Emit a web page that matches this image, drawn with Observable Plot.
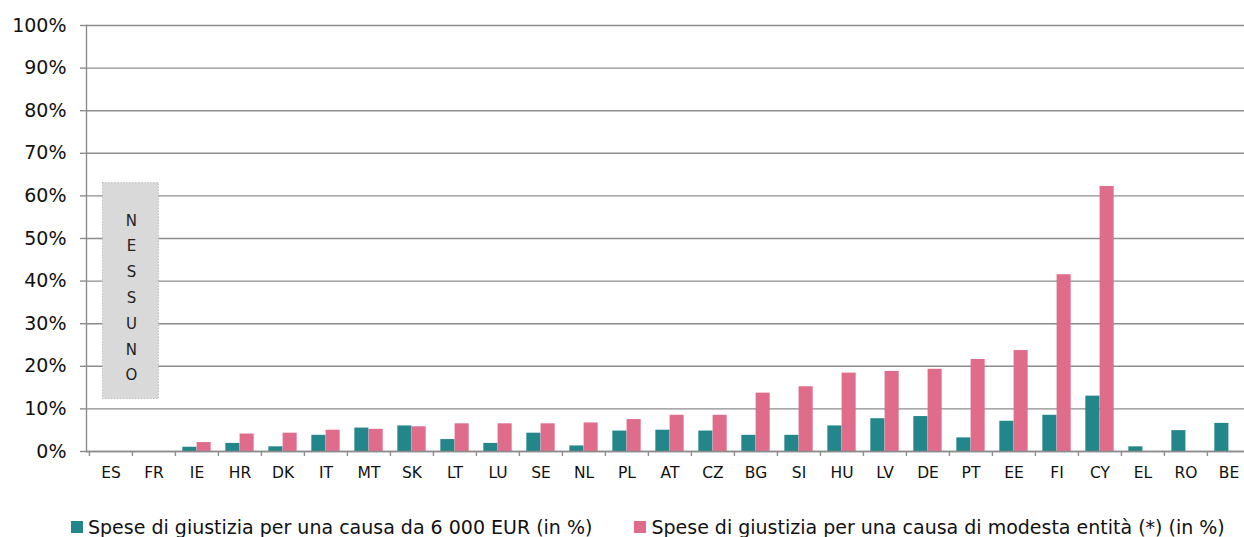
<!DOCTYPE html>
<html>
<head>
<meta charset="utf-8">
<script src="https://cdn.jsdelivr.net/npm/d3@7"></script>
<script src="https://cdn.jsdelivr.net/npm/@observablehq/plot@0.6"></script>
<style>
  html, body { margin: 0; padding: 0; background: #fff; }
  #legend {
    display: flex;
    gap: 42px;
    padding-left: 71px;
    margin-top: 25px;
    font-family: "DejaVu Sans", sans-serif;
    font-size: 19px;
    color: #111;
    line-height: 24px;
    white-space: nowrap;
  }
  #legend .item { display: flex; align-items: center; gap: 5px; }
  #legend .sw { width: 12px; height: 12px; display: inline-block; }
</style>
</head>
<body>
<div id="chart"></div>
<div id="legend"></div>
<script>
// Member states, in display order
const countries = ["ES","FR","IE","HR","DK","IT","MT","SK","LT","LU","SE","NL","PL","AT","CZ","BG","SI","HU","LV","DE","PT","EE","FI","CY","EL","RO","BE"];

// Court fees for a 6 000 EUR claim, % of the claim value
const cost6000 = [null,null,1.0,1.9,1.1,3.8,5.5,6.0,2.8,1.9,4.3,1.3,4.8,5.0,4.8,3.8,3.8,6.0,7.7,8.2,3.2,7.1,8.5,13.0,1.1,4.9,6.6];

// Court fees for a small claim, % of the claim value
const costSmall = [null,null,2.1,4.1,4.3,5.0,5.2,5.8,6.5,6.5,6.5,6.7,7.5,8.5,8.5,13.7,15.2,18.4,18.8,19.3,21.6,23.7,41.5,62.2,null,null,null];

const seriesNames = [
  "Spese di giustizia per una causa da 6 000 EUR (in %)",
  "Spese di giustizia per una causa di modesta entità (*) (in %)"
];
const seriesColors = ["#22868a", "#e06c8b"];

const yTicks = [0,10,20,30,40,50,60,70,80,90,100];

// "No fee" annotation straddling ES and FR
const noneLabel = "NESSUNO";
const noneAt = "FR";
const noneSpan = [12.3, 63];

const rows = countries.map((c, i) => ({country: c, big: cost6000[i], small: costSmall[i]}));

const W = 1244, H = 490;
const xRange = [86, 1252];
const step = (xRange[1] - xRange[0]) / countries.length;
const barW = step * 0.33;
const boxPad = -(step * 1.3 - step) / 2;
const grey = "#8c8c8c";

const chart = Plot.plot({
  width: W,
  height: H,
  marginTop: 25,
  marginBottom: 39,
  marginLeft: 86,
  marginRight: 0,
  style: {fontFamily: "DejaVu Sans, sans-serif", fontSize: "15px", background: "#fff", color: "#111", overflow: "visible"},
  x: {domain: countries, range: xRange, padding: 0, label: null},
  y: {domain: [0, 100], label: null},
  marks: [
    Plot.gridY(yTicks, {stroke: grey, strokeOpacity: 1, strokeWidth: 1.4}),
    Plot.barY([noneAt], {
      x: d => d, y1: noneSpan[0], y2: noneSpan[1], dx: -step / 2 - 1.5,
      insetLeft: boxPad, insetRight: boxPad,
      fill: "#d9d9d9", stroke: "#a8a8a8", strokeWidth: 1, strokeDasharray: "1,2"
    }),
    Plot.text([noneAt], {
      x: d => d, y: 36.8, dx: -step / 2 - 1,
      text: () => noneLabel.split("").join("\n"),
      lineHeight: 1.72, fontSize: 15, fill: "#222"
    }),
    Plot.barY(rows, {
      x: "country", y: "big", fill: seriesColors[0],
      insetLeft: step / 2 - barW, insetRight: step / 2
    }),
    Plot.barY(rows, {
      x: "country", y: "small", fill: seriesColors[1],
      insetLeft: step / 2, insetRight: step / 2 - barW
    }),
    Plot.ruleY([0], {stroke: grey, strokeWidth: 1.6}),
    Plot.frame({anchor: "left", stroke: grey, strokeWidth: 1.4}),
    Plot.axisY(yTicks, {
      tickSize: 6, tickPadding: 14, tickFormat: d => d + "%",
      fontSize: 19, stroke: grey, strokeWidth: 1.4, fill: "#111", label: null
    }),
    Plot.axisX(countries, {
      tickSize: 5, dx: -step / 2, tickFormat: () => "",
      stroke: grey, strokeWidth: 1.4, label: null
    }),
    Plot.axisX(countries, {tickSize: 0, tickPadding: 15, fontSize: 15.5, fill: "#111", label: null})
  ]
});
document.getElementById("chart").appendChild(chart);

const legend = document.getElementById("legend");
seriesNames.forEach((name, i) => {
  const item = document.createElement("div");
  item.className = "item";
  const sw = document.createElement("span");
  sw.className = "sw";
  sw.style.background = seriesColors[i];
  const label = document.createElement("span");
  label.textContent = name;
  item.append(sw, label);
  legend.appendChild(item);
});
</script>
</body>
</html>
